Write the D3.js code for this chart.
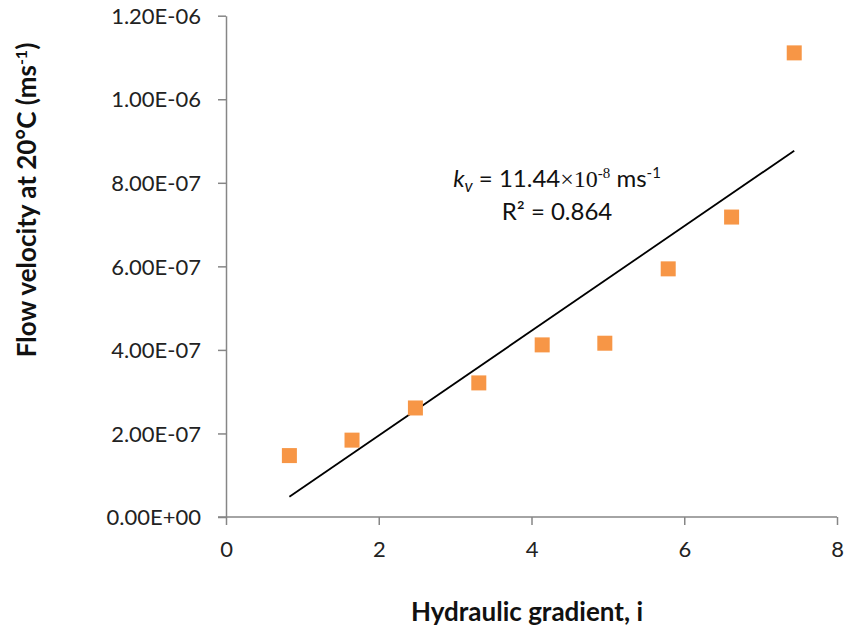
<!DOCTYPE html>
<html><head><meta charset="utf-8">
<script src="https://cdn.jsdelivr.net/npm/d3@7"></script>
<style>body{margin:0;background:#fff}svg{display:block}text{font-family:Lato,"Open Sans",sans-serif}</style>
</head><body>
<svg id="c" width="847" height="629"></svg>
<script>
const gradient = [0.83, 1.65, 2.48, 3.31, 4.14, 4.96, 5.79, 6.62, 7.44];
const velocity = [1.47e-7, 1.84e-7, 2.61e-7, 3.21e-7, 4.12e-7, 4.16e-7, 5.94e-7, 7.18e-7, 11.11e-7];
const xTicks = [0, 2, 4, 6, 8];
const yTicks = [0, 2e-7, 4e-7, 6e-7, 8e-7, 1e-6, 1.2e-6];
const yTickLabels = ["0.00E+00","2.00E-07","4.00E-07","6.00E-07","8.00E-07","1.00E-06","1.20E-06"];

const svg = d3.select("#c");
const x = d3.scaleLinear().domain([0, 8]).range([226, 837]);
const y = d3.scaleLinear().domain([0, 1.2e-6]).range([517, 15.7]);
const axisColor = "#868686";
const FONT = "Lato,'Open Sans',sans-serif";

// axes
const gx = svg.append("g").attr("transform", `translate(0,${y(0)})`)
  .call(d3.axisBottom(x).tickValues(xTicks).tickSize(8).tickSizeOuter(0).tickFormat(d3.format("d")));
const gy = svg.append("g").attr("transform", `translate(${x(0)},0)`)
  .call(d3.axisLeft(y).tickValues(yTicks).tickSize(8).tickSizeOuter(0).tickFormat((d,i)=>yTickLabels[i]));
[gx, gy].forEach(g => {
  g.selectAll("path,line").attr("stroke", axisColor).attr("stroke-width", 1.5);
  g.selectAll("text").attr("fill", "#222").style("font-size", "22px").style("font-family", FONT);
});
gx.selectAll("text").attr("dy", "1.3em");
gy.selectAll("text").attr("x", -25).attr("dy", "0.35em");
gx.select(".domain").attr("d", `M${x(0)-8},0H${x(8)}`);

// trendline (least squares)
const mx = d3.mean(gradient), my = d3.mean(velocity);
const slope = d3.sum(gradient, (g,i)=>(g-mx)*(velocity[i]-my)) / d3.sum(gradient, g=>(g-mx)*(g-mx));
const icpt = my - slope*mx;
const x0 = d3.min(gradient), x1 = d3.max(gradient);
svg.append("line")
  .attr("x1", x(x0)).attr("y1", y(icpt + slope*x0))
  .attr("x2", x(x1)).attr("y2", y(icpt + slope*x1))
  .attr("stroke", "#000").attr("stroke-width", 1.8);

// points
const s = 15;
svg.append("g").selectAll("rect").data(gradient).join("rect")
  .attr("x", (d)=>x(d)-s/2).attr("y", (d,i)=>y(velocity[i])-s/2)
  .attr("width", s).attr("height", s)
  .attr("fill", "#F79646");

// annotation
const ann = svg.append("text").attr("x", 557).attr("y", 187).attr("text-anchor", "middle")
  .style("font-size", "24px").attr("fill", "#111");
ann.append("tspan").attr("font-style", "italic").text("k");
ann.append("tspan").attr("font-style", "italic").attr("dy", 5).style("font-size", "17px").text("v");
ann.append("tspan").attr("dy", -5).text(" = 11.44");
ann.append("tspan").style("font-family", "'Liberation Serif',serif").text("×10");
ann.append("tspan").style("font-family", "'Liberation Serif',serif").attr("dy", -9).style("font-size", "15px").text("-8");
ann.append("tspan").attr("dy", 9).text(" ms");
ann.append("tspan").attr("dy", -9).style("font-size", "15px").text("-1");
svg.append("text").attr("x", 557).attr("y", 220).attr("text-anchor", "middle")
  .style("font-size", "24px").attr("fill", "#111").text("R² = 0.864");

// axis titles
svg.append("text").attr("x", 527).attr("y", 621).attr("text-anchor", "middle")
  .style("font-size", "26px").style("font-weight", "bold").attr("fill", "#111").text("Hydraulic gradient, i");
const yt = svg.append("text").attr("transform", "translate(36,200) rotate(-90)").attr("text-anchor", "middle")
  .style("font-size", "26px").style("font-weight", "bold").attr("fill", "#111");
yt.append("tspan").text("Flow velocity at 20°C (ms");
yt.append("tspan").attr("dy", -9).style("font-size", "16px").text("-1");
yt.append("tspan").attr("dy", 9).text(")");
</script>
</body></html>
